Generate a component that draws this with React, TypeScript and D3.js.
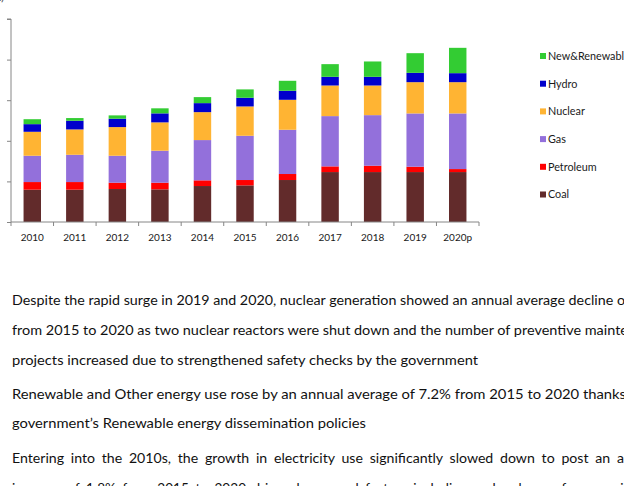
import React, { useEffect, useRef } from "react";
import * as d3 from "d3";

// generation mix by source, stacked bottom to top
const years = ["2010", "2011", "2012", "2013", "2014", "2015", "2016", "2017", "2018", "2019", "2020p"];
const sources = ["Coal", "Petroleum", "Gas", "Nuclear", "Hydro", "New&Renewable"];
const coal = [39.8, 39.8, 40.6, 40.2, 44.3, 45.1, 51.7, 61.5, 61.5, 61.5, 61.5];
const petroleum = [9.4, 9.4, 7.8, 8.2, 7.0, 6.6, 7.4, 7.0, 7.8, 6.6, 3.7];
const gas = [32.4, 33.6, 33.2, 39.4, 49.6, 54.5, 54.5, 61.9, 62.3, 65.6, 68.5];
const nuclear = [29.5, 31.2, 35.3, 34.9, 34.4, 36.1, 36.9, 37.7, 36.5, 38.5, 38.5];
const hydro = [9.4, 10.7, 10.3, 11.1, 11.1, 10.7, 11.1, 10.7, 10.7, 11.5, 11.1];
const renewable = [6.1, 3.3, 4.1, 6.2, 7.4, 10.3, 12.3, 15.6, 18.9, 24.2, 31.2];
const yTicks = [0, 50, 100, 150, 200, 250];

const notes = [
  "Despite the rapid surge in 2019 and 2020, nuclear generation showed an annual average decline o",
  "from 2015 to 2020 as two nuclear reactors were shut down and the number of preventive mainte",
  "projects increased due to strengthened safety checks by the government",
  "Renewable and Other energy use rose by an annual average of 7.2% from 2015 to 2020 thanks",
  "government\u2019s Renewable energy dissemination policies",
  "Entering into the 2010s, the growth in electricity use significantly slowed down to post an a",
  "increase of 1.8% from 2015 to 2020 driven by several factors including a slowdown of economic",
];

const colors = ["#622b2b", "#ff0000", "#9370db", "#ffb433", "#0000cc", "#33cc33"];
const FONT = "Lato, 'Open Sans', sans-serif";

const App = () => {
  const svgRef = useRef<SVGSVGElement>(null);

  useEffect(() => {
    const svg = d3.select(svgRef.current);
    svg.selectAll("*").remove();

    const rows = years.map((year, i) => ({
      year,
      Coal: coal[i],
      Petroleum: petroleum[i],
      Gas: gas[i],
      Nuclear: nuclear[i],
      Hydro: hydro[i],
      "New&Renewable": renewable[i],
    }));

    const x = d3.scaleBand().domain(years).range([11, 479]).paddingInner(0.59).paddingOuter(0.295);
    const y = d3.scaleLinear().domain([0, 250]).range([222, 19]);
    const color = d3.scaleOrdinal<string, string>().domain(sources).range(colors);
    const series = d3.stack<any>().keys(sources)(rows);

    const g = svg.append("g");

    // bars
    series.forEach((s) => {
      g.append("g")
        .attr("fill", color(s.key))
        .selectAll("rect")
        .data(s)
        .join("rect")
        .attr("x", (d: any) => x(d.data.year)!)
        .attr("width", x.bandwidth())
        .attr("y", (d) => y(d[1]))
        .attr("height", (d) => y(d[0]) - y(d[1]));
    });

    // axes
    const axisColor = "#868686";
    const yAxis = g.append("g").attr("transform", "translate(11,0)").call(d3.axisLeft(y).tickValues(yTicks).tickSize(4).tickFormat(() => ""));
    yAxis.select(".domain").attr("stroke", axisColor).attr("d", `M-4,${y(250)}H0V${y(0)}`);
    yAxis.selectAll(".tick line").attr("stroke", axisColor);

    const step = x.step();
    const bounds = d3.range(years.length + 1).map((i) => 11 + i * step);
    g.append("line")
      .attr("x1", 11).attr("x2", 479)
      .attr("y1", y(0)).attr("y2", y(0))
      .attr("stroke", axisColor);
    g.selectAll(".xtick")
      .data(bounds)
      .join("line")
      .attr("x1", (d) => d).attr("x2", (d) => d)
      .attr("y1", y(0)).attr("y2", y(0) + 4)
      .attr("stroke", axisColor);
    g.selectAll(".xlabel")
      .data(years)
      .join("text")
      .attr("x", (d) => x(d)! + x.bandwidth() / 2)
      .attr("y", 241)
      .attr("text-anchor", "middle")
      .style("font-family", FONT)
      .style("font-size", "10px")
      .style("fill", "#1a1a1a")
      .text((d) => d);

    // unit label, mostly above the page edge
    g.append("text")
      .attr("x", 4).attr("y", 1)
      .attr("text-anchor", "end")
      .style("font-family", FONT)
      .style("font-size", "10px")
      .style("fill", "#333")
      .text("(Mtoe)");

    // legend, top entry first
    const legend = g.append("g").attr("transform", "translate(540,0)");
    sources.slice().reverse().forEach((name, i) => {
      const cy = 56 + i * 27.7;
      legend.append("rect").attr("x", 0).attr("y", cy - 3).attr("width", 6).attr("height", 6).attr("fill", color(name));
      legend.append("text")
        .attr("x", 8).attr("y", cy + 3.8)
        .style("font-family", FONT)
        .style("font-size", "10.8px")
        .style("fill", "#1a1a1a")
        .text(name);
    });

    // notes below the chart
    const baselines = [305, 335, 365, 399, 428, 463, 493];
    const lengths = [613, 616, 466, 614, 354, 612, 618];
    const justified = [false, false, false, false, false, true, true];
    notes.forEach((line, i) => {
      g.append("text")
        .attr("x", 12)
        .attr("y", baselines[i])
        .attr("textLength", lengths[i])
        .attr("lengthAdjust", "spacingAndGlyphs")
        .style("font-family", FONT)
        .style("font-size", "13.5px")
        .style("word-spacing", justified[i] ? "3px" : "0px")
        .style("fill", "#111")
        .text(line);
    });
  }, []);

  return (
    <div style={{ position: "absolute", left: 0, top: 0, width: 624, height: 486, overflow: "hidden", background: "#fff" }}>
      <svg ref={svgRef} width={624} height={486} style={{ display: "block" }}></svg>
    </div>
  );
};

export default App;
